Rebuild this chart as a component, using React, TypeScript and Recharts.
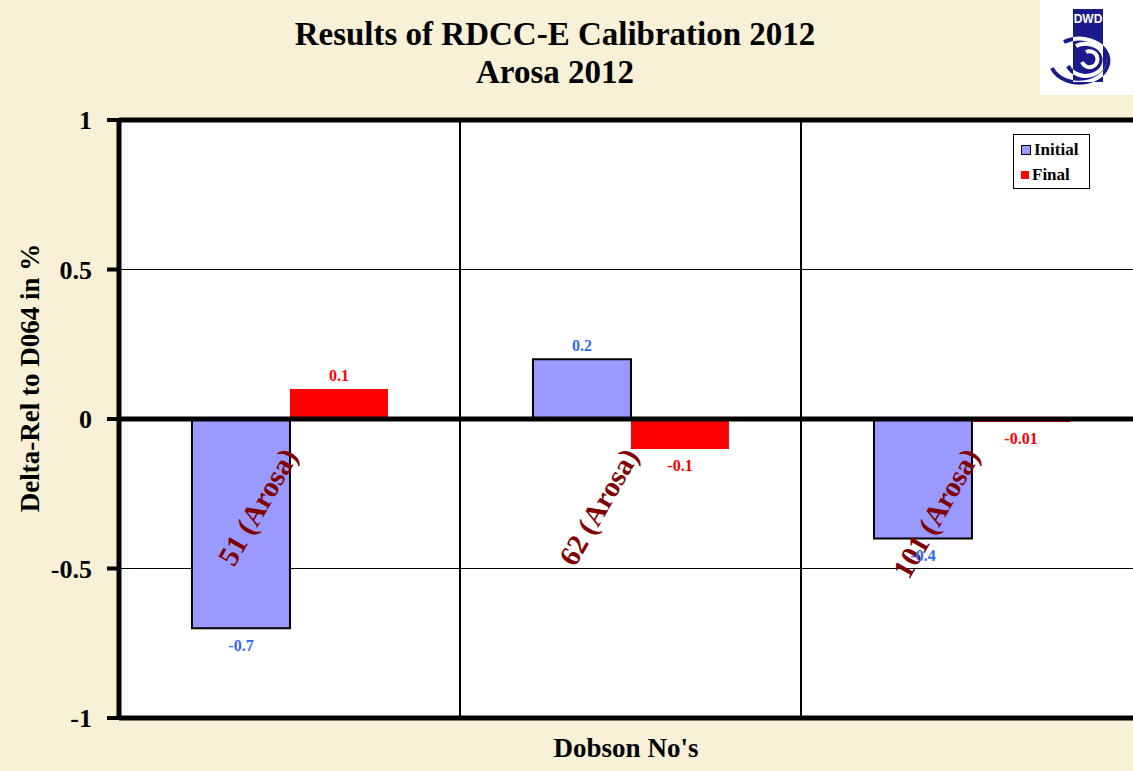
import React from "react";
import { BarChart, Bar, XAxis, YAxis, CartesianGrid, ReferenceLine, ReferenceDot, LabelList } from "recharts";

const categories = ["51 (Arosa)", "62 (Arosa)", "101 (Arosa)"];
const initialValues = [-0.7, 0.2, -0.4];
const finalValues = [0.1, -0.1, -0.01];
const yTicks = [-1, -0.5, 0, 0.5, 1];
const seriesNames = ["Initial", "Final"];

const data = categories.map((name, i) => ({ name, Initial: initialValues[i], Final: finalValues[i] }));

const SERIF = "'Liberation Serif', 'Times New Roman', serif";
const BLUE_FILL = "#9999ff";
const RED_FILL = "#ff0000";

const valueLabel = (color: string) => (props: any) => {
  const { x, y, width, height, value } = props;
  const top = Math.min(y, y + height);
  const bottom = Math.max(y, y + height);
  const ly = value >= 0 ? top - 14 : bottom + 17;
  return (
    <text x={x + width / 2} y={ly} textAnchor="middle" dominantBaseline="central" fill={color}
      fontFamily={SERIF} fontWeight="bold" fontSize={16}>{value}</text>
  );
};

function CategoryLabel({ cx, cy, text }: any) {
  const x = cx + 9;
  const y = cy + 37;
  return (
    <text x={x} y={y} transform={`rotate(-60 ${x} ${y})`} textAnchor="end" fill="#800000"
      fontFamily={SERIF} fontWeight="bold" fontSize={29}>{text}</text>
  );
}

function LegendBox() {
  const colors = [BLUE_FILL, RED_FILL];
  return (
    <div style={{ position: "absolute", left: 1013, top: 134, width: 77, height: 55, border: "1px solid #000", background: "#fff", boxSizing: "border-box", fontFamily: SERIF, fontWeight: "bold", fontSize: 17, paddingTop: 2 }}>
      {seriesNames.map((s, i) => (
        <div key={s} style={{ display: "flex", alignItems: "center", height: 25, paddingLeft: 7 }}>
          <span style={{ width: 8, height: 8, background: colors[i], border: i === 0 ? "1.5px solid #000" : "none", marginRight: 3, display: "inline-block", flexShrink: 0 }} />
          {s}
        </div>
      ))}
    </div>
  );
}

function Logo() {
  const navy = "#1a1a8a";
  return (
    <svg width={93} height={95} style={{ position: "absolute", left: 1040, top: 0 }}>
      <defs>
        <clipPath id="bar"><rect x={33} y={9} width={30} height={73} /></clipPath>
      </defs>
      <rect width={93} height={95} fill="#fff" />
      <rect x={33} y={9} width={30} height={73} fill={navy} />
      <text x={48} y={23} textAnchor="middle" fill="#fff" fontFamily="'Liberation Sans', Arial, sans-serif" fontWeight="bold" fontSize={12}>DWD</text>
      <g fill="none" stroke={navy} strokeWidth={4}>
        <path d="M 12 68 A 29 22 0 1 0 24 42" />
        <path d="M 28 66 A 19 16 0 1 0 36 46" />
      </g>
      <g fill="none" stroke="#fff" strokeWidth={4} clipPath="url(#bar)">
        <path d="M 12 68 A 29 22 0 1 0 24 42" />
        <path d="M 28 66 A 19 16 0 1 0 36 46" />
        <path d="M 42 62 A 8 8 0 1 0 46 52" />
      </g>
    </svg>
  );
}

export default function App() {
  return (
    <div style={{ position: "absolute", left: 0, top: 0, width: 1133, height: 771, overflow: "hidden", background: "#f9f0d8", fontFamily: SERIF }}>
      <div style={{ position: "absolute", left: 0, width: 1110, top: 15, textAlign: "center", fontWeight: "bold", fontSize: 33, lineHeight: "38px", color: "#000" }}>
        Results of RDCC-E Calibration 2012<br />Arosa 2012
      </div>
      <Logo />
      <div style={{ position: "absolute", left: 30, top: 378, transform: "translate(-50%, -50%) rotate(-90deg)", whiteSpace: "nowrap", fontWeight: "bold", fontSize: 27 }}>
        Delta-Rel to D064 in %
      </div>
      <div style={{ position: "absolute", left: 626, top: 748, transform: "translate(-50%, -50%)", whiteSpace: "nowrap", fontWeight: "bold", fontSize: 27 }}>
        Dobson No's
      </div>
      <div style={{ position: "absolute", left: 0, top: 0 }}>
        <BarChart width={1160} height={771} data={data} margin={{ top: 120, right: 18, bottom: 53, left: 0 }}
          barCategoryGap="21.4%" barGap={0}>
          <CartesianGrid fill="#fff" stroke="#000" strokeWidth={1} vertical={false} />
          <XAxis dataKey="name" hide />
          <YAxis width={119} domain={[-1, 1]} ticks={yTicks} tickFormatter={(v: number) => String(v)}
            axisLine={{ stroke: "#000", strokeWidth: 5 }} tickLine={{ stroke: "#000", strokeWidth: 4 }}
            tickSize={12} tickMargin={15}
            tick={{ fill: "#000", fontFamily: SERIF, fontWeight: "bold", fontSize: 26 }} />
          <ReferenceLine x={categories[1]} position="start" stroke="#000" strokeWidth={2} />
          <ReferenceLine x={categories[2]} position="start" stroke="#000" strokeWidth={2} />
          <ReferenceLine y={1} stroke="#000" strokeWidth={5} />
          <ReferenceLine y={-1} stroke="#000" strokeWidth={5} />
          <Bar dataKey="Initial" fill={BLUE_FILL} stroke="#000" strokeWidth={2} isAnimationActive={false}>
            <LabelList dataKey="Initial" content={valueLabel("#3366ff")} />
          </Bar>
          <Bar dataKey="Final" fill={RED_FILL} isAnimationActive={false}>
            <LabelList dataKey="Final" content={valueLabel("#ff0000")} />
          </Bar>
          <ReferenceLine y={0} stroke="#000" strokeWidth={5} />
          {categories.map((c) => (
            <ReferenceDot key={c} x={c} y={0} r={0} shape={(p: any) => <CategoryLabel {...p} text={c} />} />
          ))}
        </BarChart>
      </div>
      <LegendBox />
    </div>
  );
}
